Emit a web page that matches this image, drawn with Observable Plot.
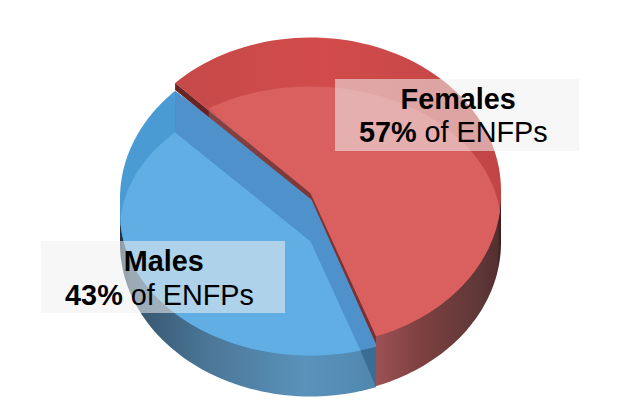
<!DOCTYPE html>
<html>
<head>
<meta charset="utf-8">
<script src="https://cdn.jsdelivr.net/npm/d3@7"></script>
<script src="https://cdn.jsdelivr.net/npm/@observablehq/plot@0.6"></script>
<style>
html,body{margin:0;padding:0;background:#fff}
svg{display:block;background:#fff}
</style>
</head>
<body>
<div id="chart"></div>
<script>
// Data
const categories = ["Females", "Males"];
const shares = [57, 43];
const noun = "of ENFPs";

// Pie orientation and layer geometry (ellipses of the fake 3D pie)
const firstAngle = -45.3;
const cx = 310, rx = 190.5;
const rad = d => d * Math.PI / 180;
const angles = d3.pie().sort(null).startAngle(rad(firstAngle)).endAngle(rad(firstAngle + 360))(shares);
const fStart = angles[0].startAngle * 180 / Math.PI;
const fEnd = angles[0].endAngle * 180 / Math.PI;
const mEnd = angles[1].endAngle * 180 / Math.PI;

const at = (a, [c, ry]) => ({x: cx + rx * Math.sin(rad(a)), y: c - ry * Math.cos(rad(a))});
const arc = (a0, a1, layer) => d3.range(0, 61).map(i => at(a0 + (a1 - a0) * i / 60, layer));
const centre = (c, dx = 0) => ({x: cx + dx, y: c});

const L = {
  redTop: [190, 153], redFront: [194, 151], redInner: [226, 140], redBottom: [242, 153],
  blueTop: [198, 153], blueFront: [213, 142], blueInner: [229, 138], blueBottom: [243, 153]
};
const inset = 4.9;
const apex = centre(192.7, 0);

const blueSide = [...arc(fEnd, 270, L.blueBottom), at(270, L.blueTop), at(fEnd, L.blueFront)];
const blueRim = [apex, at(fEnd, L.redFront), ...arc(fEnd, 270, L.blueFront), ...arc(270, mEnd, L.blueTop)];
const blueBand = [at(mEnd, L.blueTop), apex, at(fEnd, L.redFront), at(fEnd, L.blueFront), at(fEnd + inset, L.blueFront), centre(241), at(mEnd, L.blueInner)];
const blueLight = [centre(241), at(fEnd + inset, L.blueFront), ...arc(fEnd + inset, 266, L.blueFront), ...arc(274, 314.7, L.blueInner)];
const blueNotch = [at(fEnd + inset, L.blueFront), at(fEnd, L.blueFront), at(fEnd, L.blueBottom)];

const redSide = [at(fEnd, L.redFront), at(fEnd, L.redBottom), ...arc(fEnd, 90, L.redBottom), at(90, L.redTop)];
const redRim = [apex, ...arc(fStart, 90, L.redTop), ...arc(90, fEnd, L.redFront)];
const redLight = [centre(197, 0.5), at(fEnd, L.redFront), ...arc(fEnd, 96, L.redFront), ...arc(84, -32.4, L.redInner)];
const redWall = [at(fStart, L.redTop), apex, at(fEnd, L.redFront), at(fEnd, [197, 156]), centre(199.3, 1), at(fStart, [197, 153])];

// Labels
const boxes = [
  {x1: 335, x2: 579, y1: 79, y2: 151},
  {x1: 41, x2: 285, y1: 241, y2: 313}
];
const titleRows = [{t: categories[0], x: 457.7, y: 108}, {t: categories[1], x: 163.3, y: 270.7}];
const pctRows = [{t: shares[0] + "%", x: 358.4, y: 141.7}, {t: shares[1] + "%", x: 64.6, y: 304}];
const nounRows = [{t: noun, x: 424, y: 141.7}, {t: noun, x: 130.2, y: 304}];

const poly = (rows, fill) => Plot.line(rows, {x: "x", y: "y", fill, stroke: "none", curve: "linear"});
const font = {fontFamily: "'Liberation Sans', Arial, sans-serif", fontSize: 28.8, fill: "#000", lineAnchor: "bottom"};

const chart = Plot.plot({
  width: 640, height: 420, margin: 0,
  x: {type: "linear", domain: [0, 640], range: [0, 640], axis: null},
  y: {type: "linear", domain: [0, 420], range: [0, 420], axis: null},
  marks: [
    poly(blueSide, "url(#gBlueSide)"),
    poly(redSide, "url(#gRedSide)"),
    poly(blueRim, "#4a9bd3"),
    poly(blueBand, "#4f92cb"),
    poly(blueLight, "#61aee4"),
    poly(blueNotch, "#3a6d93"),
    poly(redRim, "url(#gRedRim)"),
    poly(redLight, "#da6060"),
    poly(redWall, "url(#gWall)"),
    Plot.rect(boxes, {x1: "x1", x2: "x2", y1: "y1", y2: "y2", fill: "#f0f0f0", fillOpacity: 0.55}),
    Plot.text(titleRows, {x: "x", y: "y", text: "t", textAnchor: "middle", fontWeight: "bold", ...font}),
    Plot.text(pctRows, {x: "x", y: "y", text: "t", textAnchor: "start", fontWeight: "bold", ...font}),
    Plot.text(nounRows, {x: "x", y: "y", text: "t", textAnchor: "start", ...font})
  ]
});

// Gradients used by the shaded faces
const gradients = {
  gBlueSide: [[0, "#1f3243"], [0.04, "#34536d"], [0.35, "#4c7797"], [0.72, "#5a92bb"], [1, "#4f88af"]],
  gRedSide: [[0, "#9c5254"], [0.35, "#7e4041"], [0.82, "#5f3838"], [0.97, "#553030"], [1, "#3a1c1c"]],
  gRedRim: [[0, "#c64949"], [0.45, "#d14c4b"], [1, "#c24545"]],
  gWall: [[0, "#6b2222"], [0.165, "#6b2222"], [0.17, "#864343"], [0.7, "#7c3636"], [1, "#7a2f2f"]]
};
const defs = d3.select(chart).insert("defs", ":first-child");
for (const [id, stops] of Object.entries(gradients)) {
  const g = defs.append("linearGradient").attr("id", id).attr("x1", 0).attr("x2", 1).attr("y1", 0).attr("y2", 0);
  for (const [o, c] of stops) g.append("stop").attr("offset", o).attr("stop-color", c);
}
document.getElementById("chart").append(chart);
</script>
</body>
</html>
